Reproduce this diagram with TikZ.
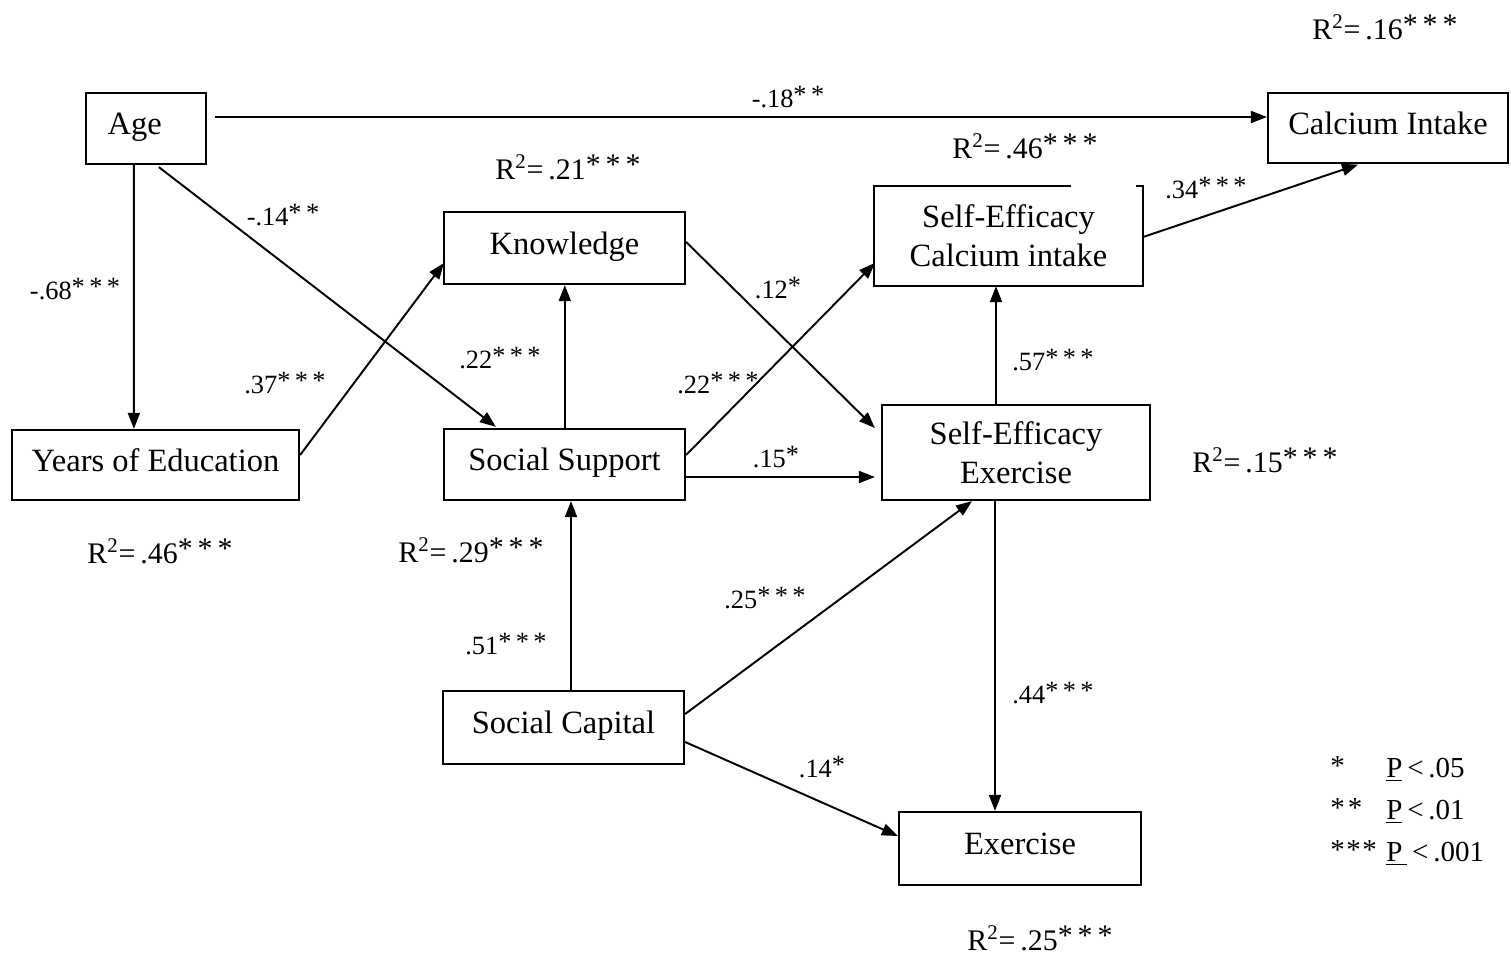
\documentclass[tikz,border=0pt]{standalone}
\usepackage{fontspec}
\setmainfont{Liberation Serif}
\usetikzlibrary{arrows.meta,calc}
\newcommand{\stars}[1]{\raisebox{0.35ex}{#1}}
\newcommand{\sth}{\stars{*\,*\,*}}
\newcommand{\stt}{\stars{*\,*}}
\newcommand{\sto}{\stars{*}}
\newcommand{\Rsq}{R\textsuperscript{2}=\,}
\newcommand{\up}[1]{\raisebox{0.2cm}{#1}}
\begin{document}
\begin{tikzpicture}[x=0.02cm,y=-0.02cm,
  box/.style={draw,line width=1.3pt,inner sep=0pt,align=center,font=\fontsize{18.5}{22}\selectfont},
  coef/.style={inner sep=0pt,font=\fontsize{15}{17}\selectfont},
  rsq/.style={inner sep=0pt,font=\fontsize{17}{20}\selectfont},
  leg/.style={inner sep=0pt,anchor=west,font=\fontsize{16.5}{19}\selectfont},
  arr/.style={line width=1.1pt,-{Triangle[length=0.32cm,width=0.24cm]}},
  ln/.style={line width=1.1pt}]
\useasboundingbox (0,0) rectangle (1511,956);
% boxes
\node[box,minimum width=2.4cm,minimum height=1.42cm] (age) at (146,128.5) {\up{Age\hspace*{0.45cm}}};
\node[box,minimum width=4.8cm,minimum height=1.4cm] (calc) at (1388,128) {\up{Calcium Intake}};
\node[box,minimum width=5.74cm,minimum height=1.4cm] (years) at (155.5,465) {\up{Years of Education}};
\node[box,minimum width=4.82cm,minimum height=1.44cm] (know) at (564.5,248) {\up{Knowledge}};
\node[box,draw=none,minimum width=5.34cm,minimum height=1.96cm] (sec) at (1008.5,236) {Self-Efficacy\\Calcium intake};
\node[box,minimum width=4.82cm,minimum height=1.42cm] (ss) at (564.5,464.5) {\up{Social Support}};
\node[box,minimum width=5.36cm,minimum height=1.9cm] (see) at (1016,452.5) {Self-Efficacy\\Exercise};
\node[box,minimum width=4.82cm,minimum height=1.46cm] (sc) at (563.5,727.5) {\up{Social Capital}};
\node[box,minimum width=4.84cm,minimum height=1.46cm] (ex) at (1020,848.5) {\up{Exercise}};
% broken frame of Self-Efficacy Calcium intake
\draw[line width=1.3pt] ($(sec.north east)+(-7,0)$) -- (sec.north east) -- (sec.south east) -- (sec.south west) -- (sec.north west) -- ($(sec.north west)+(197,0)$);
% connectors
\draw[arr] ($(age.east)+(8,-11.5)$) -- ($(calc.west)+(0,-11)$);
\draw[arr] ($(age.south west)+(49,0)$) -- ($(years.north west)+(123,0)$);
\draw[arr] ($(age.south west)+(74,2)$) -- ($(ss.north west)+(53,-1)$);
\draw[arr] ($(years.east)+(0,-10)$) -- ($(know.west)+(1,15)$);
\draw[arr] ($(know.east)+(0,-6)$) -- ($(see.west)+(-6,-24.5)$);
\draw[arr] ($(ss.north)+(0.3,0)$) -- ($(know.south)+(0.3,0)$);
\draw[arr] ($(ss.east)+(0,-9.5)$) -- ($(sec.west)+(1,27)$);
\draw[arr] ($(ss.east)+(0,12.5)$) -- ($(see.west)+(-6,24.5)$);
\draw[arr] ($(sc.north)+(7.5,0)$) -- ($(ss.south)+(6.5,0)$);
\draw[arr] ($(sc.east)+(0,-13.5)$) -- ($(see.south)+(-44,0)$);
\draw[arr] ($(sc.east)+(0,14.5)$) -- ($(ex.west)+(0,-12.5)$);
\draw[arr] ($(see.north)+(-20,0)$) -- ($(sec.south)+(-12.5,0)$);
\draw[arr] ($(see.south)+(-21,0)$) -- ($(ex.north)+(-25,0)$);
\draw[arr] ($(sec.east)+(0,1)$) -- ($(calc.south)+(-30,0.5)$);
% coefficient labels
\node[coef] (c1) at (788,97) {-.18\stt};
\node[coef] (c2) at (283,215) {-.14\stt};
\node[coef] (c3) at (75,289) {-.68\sth};
\node[coef] (c4) at (778,288) {.12\sto};
\node[coef] (c5) at (1206,188) {.34\sth};
\node[coef] (c6) at (500,358) {.22\sth};
\node[coef] (c7) at (1053,360) {.57\sth};
\node[coef] (c8) at (285,383) {.37\sth};
\node[coef] (c9) at (718,383) {.22\sth};
\node[coef] (c10) at (776,457) {.15\sto};
\node[coef] (c11) at (765,598) {.25\sth};
\node[coef] (c12) at (506,644) {.51\sth};
\node[coef] (c13) at (1053,693) {.44\sth};
\node[coef] (c14) at (822,767) {.14\sto};
% R squared labels
\node[rsq] (r1) at (1385,27) {\Rsq.16\sth};
\node[rsq] (r2) at (1025,146) {\Rsq.46\sth};
\node[rsq] (r3) at (568,167) {\Rsq.21\sth};
\node[rsq] (r4) at (1265,460) {\Rsq.15\sth};
\node[rsq] (r5) at (160,551) {\Rsq.46\sth};
\node[rsq] (r6) at (471,550) {\Rsq.29\sth};
\node[rsq] (r7) at (1040,938) {\Rsq.25\sth};
% legend
\node[leg] (l1a) at (1330,768) {\stars{*}};
\node[leg] (l1b) at (1386,770) {\underline{P}\,<\,.05};
\node[leg] (l2a) at (1330,810) {\stars{*\kern0.1em*}};
\node[leg] (l2b) at (1386,812) {\underline{P}\,<\,.01};
\node[leg] (l3a) at (1330,852) {\stars{*\kern0.05em*\kern0.05em*}};
\node[leg] (l3b) at (1386,854) {\underline{P\,}\,<\,.001};
\end{tikzpicture}
\end{document}
